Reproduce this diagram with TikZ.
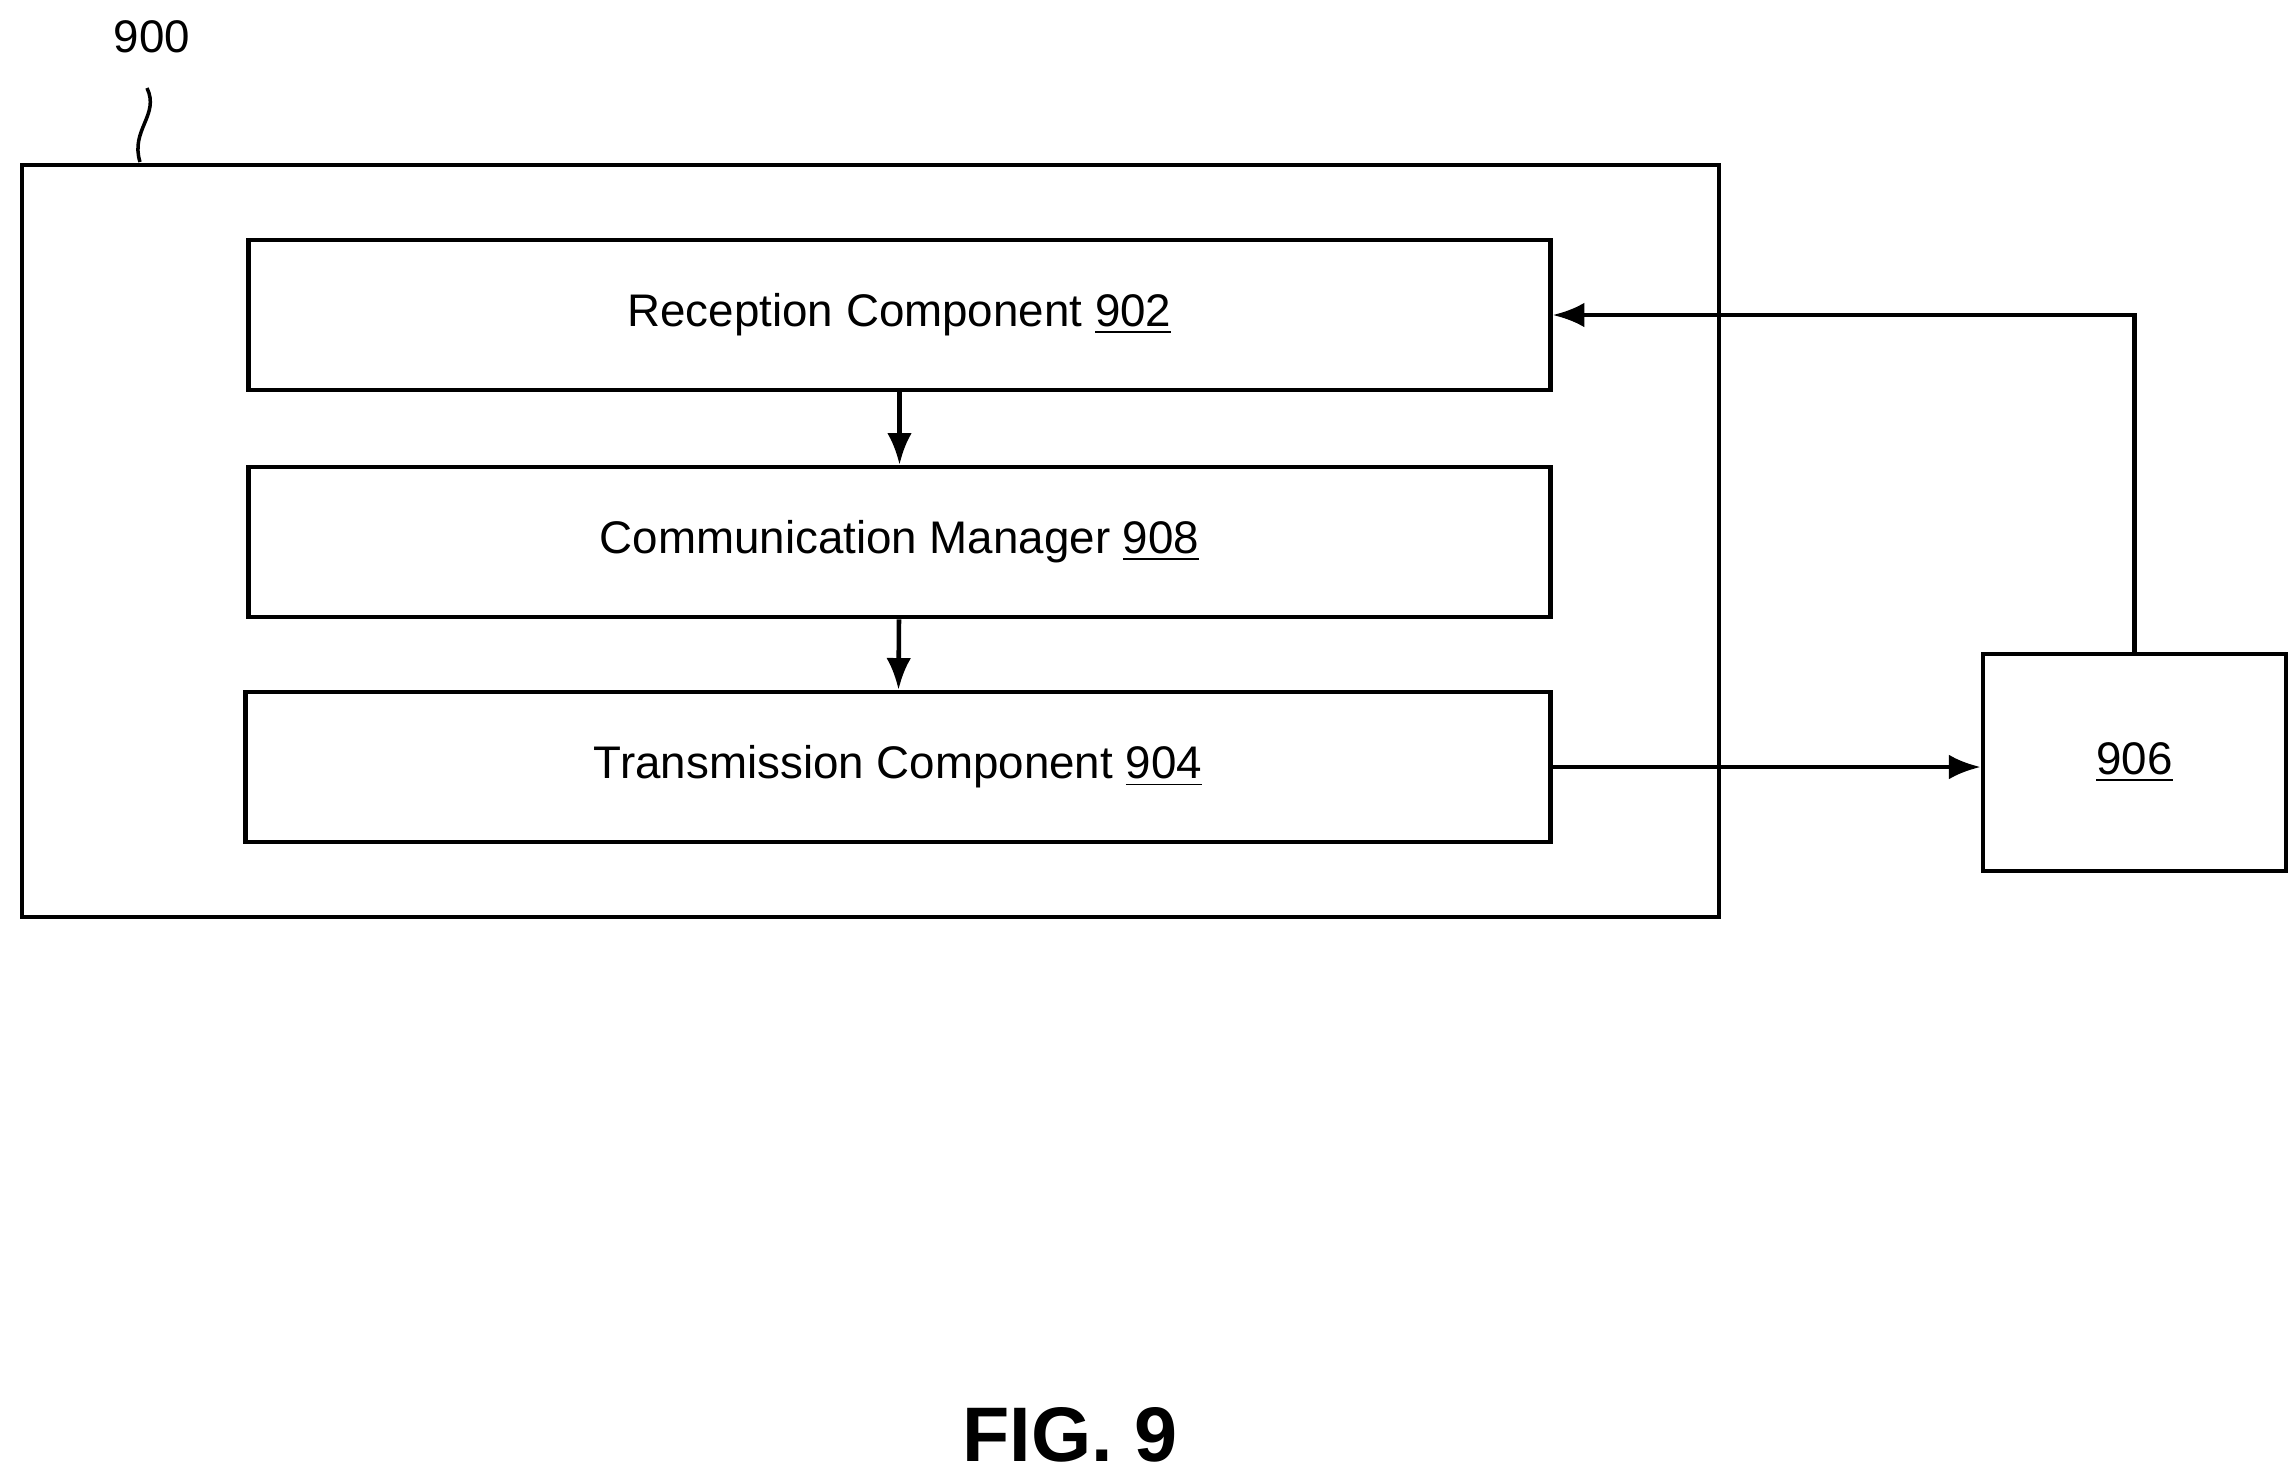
\documentclass[tikz,border=0pt]{standalone}
\usepackage{fontspec}
\setmainfont{Liberation Sans}
\usetikzlibrary{arrows.meta,positioning}
\begin{document}
\begin{tikzpicture}[x=0.01cm,y=-0.01cm,
    blk/.style={draw, line width=1.3pt, minimum height=1.5cm, font=\fontsize{13}{15}\selectfont},
    arr/.style={-{Latex[length=9pt,width=7pt]}, line width=1.3pt}]
    \useasboundingbox (0,0) rectangle (2296,1475);
    % outer device box
    \draw[line width=1.3pt] (22,165) rectangle (1719,917);
    \node[font=\fontsize{13}{15}\selectfont] (lbl) at (152,37) {900};
    \draw[line width=1pt] (147,88) .. controls (160,115) and (130,130) .. (140,162);
    \node[blk, minimum width=13.01cm] (rx) at (899.5,315) {Reception Component \underline{902}};
    \node[blk, minimum width=13.01cm] (cm) at (899.5,542) {Communication Manager \underline{908}};
    \node[blk, minimum width=13.04cm] (tx) at (898,767) {Transmission Component \underline{904}};
    \node[blk, minimum width=3.03cm, minimum height=2.17cm] (dev) at (2134.5,762.5) {\underline{906}};
    \draw[arr] (rx) -- (cm);
    \draw[arr] (cm) -- (tx);
    \draw[arr] (tx.east) -- (tx.east -| dev.west);
    \draw[arr] (dev.north) |- (rx.east);
    \node[font=\bfseries\fontsize{22}{26}\selectfont] (fig) at (1070,1435) {FIG. 9};
\end{tikzpicture}
\end{document}
